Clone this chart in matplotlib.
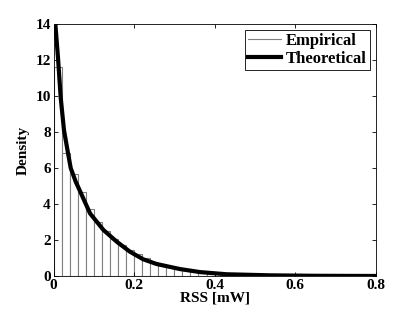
import matplotlib.pyplot as plt

# histogram: left edges of 0.02-wide bins and their density heights
bin_left = [0.00, 0.02, 0.04, 0.06, 0.08, 0.10, 0.12, 0.14, 0.16, 0.18,
            0.20, 0.22, 0.24, 0.26, 0.28, 0.30, 0.32, 0.34, 0.36, 0.38,
            0.40, 0.42, 0.44, 0.46, 0.48, 0.50, 0.52, 0.54, 0.56, 0.58,
            0.60, 0.62, 0.64, 0.66, 0.68, 0.70, 0.72, 0.74, 0.76, 0.78]
bin_height = [11.6, 6.85, 5.65, 4.65, 3.7, 3.0, 2.5, 2.05, 1.72, 1.45,
              1.2, 0.98, 0.8, 0.66, 0.52, 0.42, 0.34, 0.28, 0.22, 0.18,
              0.15, 0.12, 0.10, 0.08, 0.065, 0.05, 0.04, 0.03, 0.025, 0.02,
              0.015, 0.012, 0.01, 0.008, 0.006, 0.005, 0.004, 0.003, 0.002, 0.002]

# theoretical curve
curve_x = [0.002, 0.0045, 0.0112, 0.0179, 0.026, 0.0378, 0.0427, 0.055,
           0.0658, 0.0907, 0.124, 0.157, 0.19, 0.223, 0.256, 0.314, 0.364,
           0.43, 0.54, 0.65, 0.8]
curve_y = [16.0, 14.0, 12.1, 9.89, 8.1, 6.6, 6.0, 5.25,
           4.72, 3.48, 2.56, 1.91, 1.35, 0.93, 0.67, 0.39, 0.22,
           0.1, 0.04, 0.015, 0.005]

plt.rcParams['font.family'] = ['Liberation Serif', 'DejaVu Serif']
plt.rcParams['font.weight'] = 'bold'
plt.rcParams['font.size'] = 11

fig = plt.figure(figsize=(4.15, 3.13), dpi=100)
ax = fig.add_axes([0.129, 0.118, 0.776, 0.805])

ax.bar(bin_left, bin_height, width=0.02, align='edge', facecolor='white',
       edgecolor='#808080', linewidth=0.8, label='Empirical')
ax.plot(curve_x, curve_y, color='black', linewidth=3, label='Theoretical')

ax.set_xlim(0, 0.8)
ax.set_ylim(0, 14)
ax.set_xticks([0, 0.2, 0.4, 0.6, 0.8])
ax.set_xticklabels(['0', '0.2', '0.4', '0.6', '0.8'])
ax.set_yticks(range(0, 15, 2))
ax.tick_params(direction='in', top=True, right=True, length=3, width=0.6, pad=2)
for s in ax.spines.values():
    s.set_linewidth(0.6)
ax.set_xlabel('RSS [mW]', fontweight='bold', labelpad=0)
ax.set_ylabel('Density', fontweight='bold', labelpad=4)

handles = [plt.Line2D([], [], color='#808080', linewidth=0.8),
           plt.Line2D([], [], color='black', linewidth=3)]
leg = ax.legend(handles, ['Empirical', 'Theoretical'], loc='upper right',
                fancybox=False, edgecolor='black', framealpha=1,
                borderaxespad=0.35, handlelength=2.0, handletextpad=0.25,
                borderpad=0.2, labelspacing=0.1, prop={'weight': 'bold', 'size': 12})
leg.get_frame().set_linewidth(0.6)

fig.savefig('out.png', dpi=100)
